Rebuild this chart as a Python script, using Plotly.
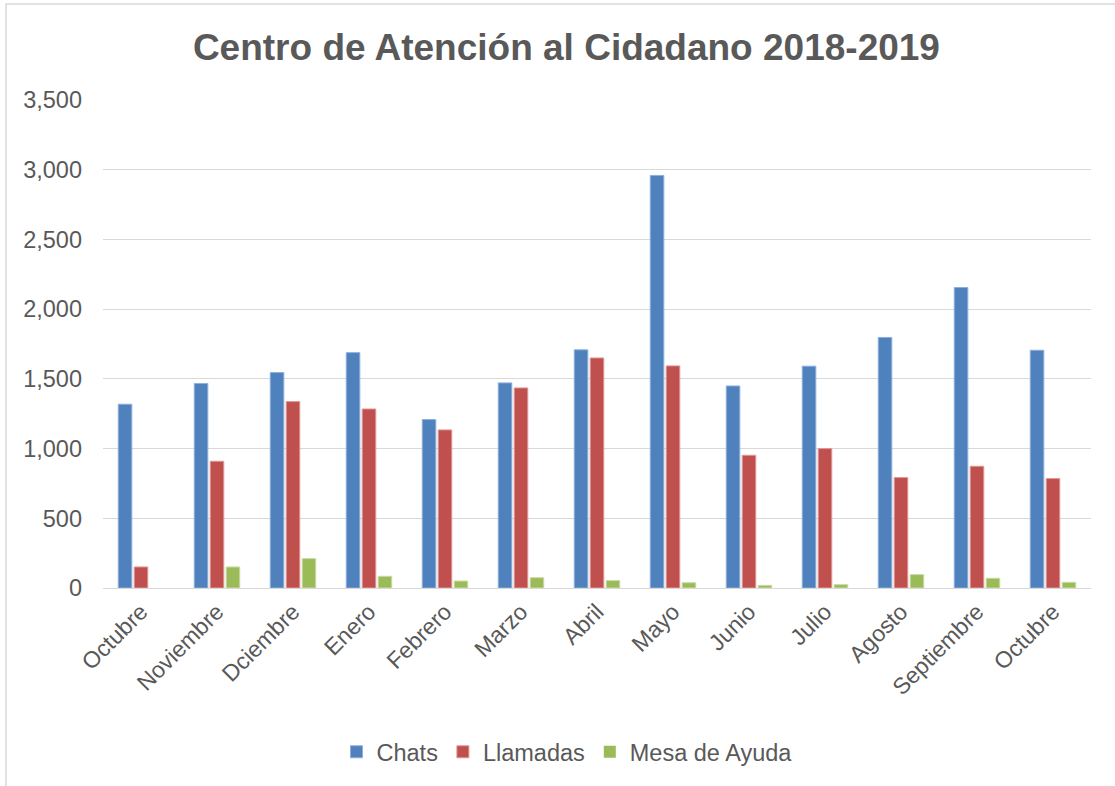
import plotly.graph_objects as go

months = ["Octubre", "Noviembre", "Dciembre", "Enero", "Febrero", "Marzo", "Abril",
          "Mayo", "Junio", "Julio", "Agosto", "Septiembre", "Octubre"]
chats = [1318, 1467, 1545, 1688, 1208, 1471, 1708, 2959, 1449, 1591, 1797, 2155, 1705]
llamadas = [151, 909, 1337, 1284, 1134, 1435, 1650, 1593, 952, 1000, 792, 873, 785]
mesa = [0, 151, 211, 84, 50, 74, 53, 38, 19, 24, 96, 70, 41]

xpos = list(range(len(months)))

series = [
    ("Chats", chats, "#4F81BD", "#8EAEDB"),
    ("Llamadas", llamadas, "#C0504D", "#E09896"),
    ("Mesa de Ayuda", mesa, "#9BBB59", "#C9DCA5"),
]

fig = go.Figure()
for name, vals, col, line in series:
    fig.add_trace(go.Bar(
        x=xpos, y=vals, name=name,
        marker=dict(color=col,
                    line=dict(color=line, width=[0 if v == 0 else 1 for v in vals])),
    ))

W, H = 1115, 786
L, R, T, B = 103, 24, 100, 198
pw, ph = W - L - R, H - T - B

fig.update_layout(
    width=W, height=H,
    margin=dict(l=L, r=R, t=T, b=B, autoexpand=False),
    paper_bgcolor="white", plot_bgcolor="white",
    font=dict(family="Liberation Sans, Arial, sans-serif", color="#595959", size=23.5),
    title=dict(text="<b>Centro de Atención al Cidadano 2018-2019</b>",
               x=0.508, xanchor="center", y=1 - 47 / H, yanchor="middle",
               font=dict(size=37, color="#595959")),
    barmode="group", bargap=0.37, bargroupgap=0.15,
    showlegend=True,
    legend=dict(orientation="h", x=0.5 - 30 / pw, xanchor="center",
                y=(ph - (752 - T)) / ph, yanchor="middle",
                font=dict(size=23.5, color="#595959"),
                itemwidth=30, tracegroupgap=0, traceorder="normal"),
    xaxis=dict(
        range=[-0.5, len(months) - 0.5],
        tickmode="array", tickvals=xpos, ticktext=months,
        tickangle=-45, showgrid=False, zeroline=False,
        showline=True, linecolor="#D9D9D9", linewidth=1.3,
        ticks="", tickfont=dict(size=23, color="#595959"),
    ),
    yaxis=dict(
        range=[0, 3500], dtick=500, tickformat=",d",
        showgrid=True, gridcolor="#D9D9D9", gridwidth=1.3,
        zeroline=False, showline=False, ticks="",
        ticklabelstandoff=20,
        tickfont=dict(size=23.5, color="#595959"),
    ),
    shapes=[dict(
        type="rect", xref="paper", yref="paper",
        x0=(6 - L) / pw, x1=(W + 20 - L) / pw,
        y0=(ph - (H + 20 - T)) / ph, y1=(ph - (4 - T)) / ph,
        line=dict(color="#D9D9D9", width=1.5), fillcolor="rgba(0,0,0,0)",
        layer="below",
    )],
)

fig.write_html("out.html", config={"displayModeBar": False},
               post_script="document.body.style.margin='0';")
